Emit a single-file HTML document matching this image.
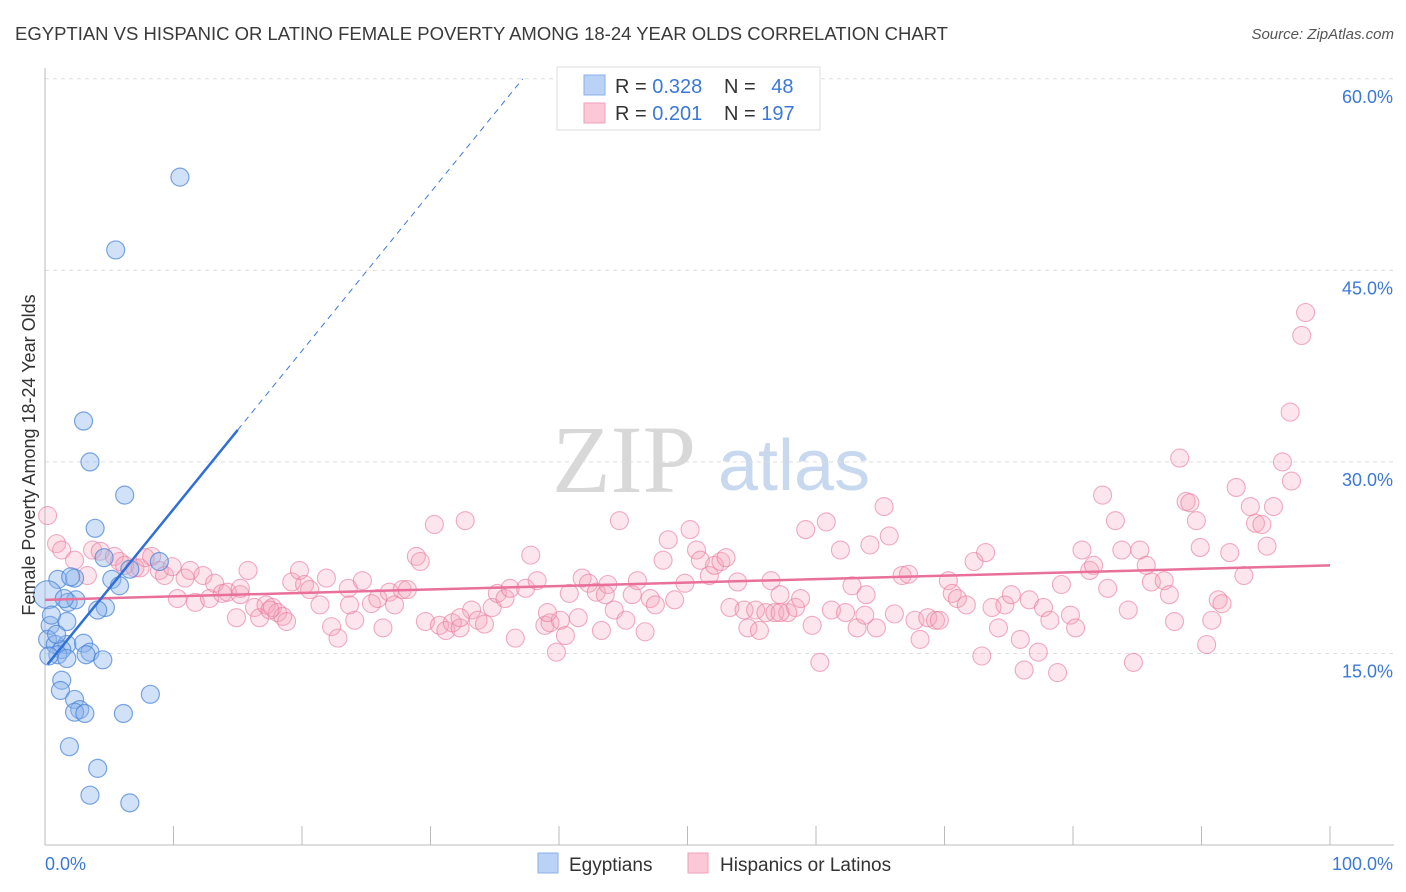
<!DOCTYPE html>
<html><head><meta charset="utf-8"><style>
body{margin:0;background:#fff;font-family:"Liberation Sans",sans-serif;}
svg{display:block}
</style></head><body>
<svg id="chart" width="1406" height="892">
<text x="15" y="40" font-size="18" fill="#3a3a3a" textLength="933" lengthAdjust="spacingAndGlyphs">EGYPTIAN VS HISPANIC OR LATINO FEMALE POVERTY AMONG 18-24 YEAR OLDS CORRELATION CHART</text>
<text x="1394" y="39" font-size="15" fill="#555" font-style="italic" text-anchor="end">Source: ZipAtlas.com</text>
<g>
<text x="552" y="492" font-size="96" fill="#d8d8d8" font-family="Liberation Serif,serif">ZIP</text>
<text x="718" y="490" font-size="72" fill="#c8d8ee">atlas</text>
</g>
<g id="grid"></g>
<g id="axes"></g>
<g id="pts"></g>
<g id="trends"></g>
<text x="35" y="455" font-size="18" fill="#333" text-anchor="middle" transform="rotate(-90 35 455)">Female Poverty Among 18-24 Year Olds</text>
<g>
<rect x="557" y="67" width="263" height="63" fill="#fff" stroke="#ddd"/>
<rect x="584" y="75" width="21" height="20" fill="#b9d2f5" stroke="#8ab0e6"/>
<rect x="584" y="103" width="21" height="20" fill="#fcc8d7" stroke="#f0a0b8"/>
<text x="615" y="93" font-size="20" fill="#333">R = <tspan fill="#3b78d8">0.328</tspan></text>
<text x="724" y="93" font-size="20" fill="#333">N = <tspan fill="#3b78d8" dx="10">48</tspan></text>
<text x="615" y="120" font-size="20" fill="#333">R = <tspan fill="#3b78d8">0.201</tspan></text>
<text x="724" y="120" font-size="20" fill="#333">N = <tspan fill="#3b78d8">197</tspan></text>
</g>
<g>
<rect x="538" y="853" width="20" height="20" fill="#b9d2f5" stroke="#8ab0e6"/>
<text x="569" y="871" font-size="19" fill="#333">Egyptians</text>
<rect x="688" y="853" width="20" height="20" fill="#fcc8d7" stroke="#f0a0b8"/>
<text x="720" y="871" font-size="19" fill="#333">Hispanics or Latinos</text>
</g>
</svg>
<script>
const yTicks=[15,30,45,60];
const yTickLabels=["15.0%","30.0%","45.0%","60.0%"];
const xEndLabels=["0.0%","100.0%"];
const blueX=[10.5,5.5,3.0,3.5,6.2,3.9,8.9,4.6,6.6,5.2,1.0,2.3,0.2,1.8,2.4,4.7,4.1,0.4,1.7,0.2,0.8,1.7,3.0,1.3,3.5,1.0,3.2,4.5,1.7,1.3,1.2,2.3,2.7,2.3,3.1,6.1,8.2,1.9,4.1,3.5,6.6,0.9,0.5,5.8,0.3,2.0,1.5];
const blueY=[52.3,46.6,33.2,30.0,27.4,24.8,22.2,22.5,21.6,20.8,20.8,20.9,19.6,19.0,19.2,18.6,18.4,17.2,17.5,16.1,15.7,15.7,15.8,15.3,15.1,14.9,14.9,14.5,14.6,12.9,12.1,11.4,10.6,10.4,10.3,10.3,11.8,7.7,6.0,3.9,3.3,16.5,18.0,20.3,14.8,21.0,19.3];
const pinkX=[0.2,0.9,1.3,2.3,3.3,3.7,4.3,5.4,5.8,6.2,7.0,7.4,7.8,8.3,8.9,9.3,9.9,10.3,10.9,11.3,11.7,12.3,12.8,13.2,13.8,14.2,14.9,15.2,15.8,16.3,16.7,17.2,17.7,18.1,18.5,18.8,19.2,19.8,20.2,20.6,21.4,21.9,22.3,22.8,23.6,24.1,24.7,25.4,25.9,26.3,26.8,27.2,27.8,28.2,28.9,29.2,29.6,30.3,30.7,31.2,31.7,32.3,32.7,33.2,33.7,34.2,34.8,35.2,35.8,36.2,36.6,37.4,37.8,38.3,38.9,39.3,39.8,40.1,40.5,40.8,41.5,41.8,42.3,42.9,43.3,43.8,44.3,44.7,45.2,45.7,46.1,46.7,47.1,47.5,48.1,48.5,49.0,49.8,50.2,50.7,51.0,51.7,52.1,52.6,53.0,53.3,53.9,54.4,54.7,55.3,55.6,56.1,56.5,56.8,57.2,57.8,58.4,58.8,59.2,59.7,60.3,60.8,61.2,61.9,62.3,62.8,63.2,63.9,64.2,64.7,65.3,65.7,66.1,66.7,67.2,67.7,68.1,68.7,69.3,69.6,70.3,70.6,71.0,71.7,72.3,72.9,73.2,73.7,74.2,74.7,75.2,75.9,76.2,76.6,77.3,77.7,78.2,78.8,79.1,79.8,80.2,80.7,81.3,81.6,82.3,82.7,83.3,83.8,84.3,84.7,85.2,85.7,86.1,87.1,87.5,87.9,88.3,88.8,89.1,89.6,89.9,90.4,90.8,91.3,91.6,92.2,92.7,93.3,93.8,94.2,94.7,95.1,95.6,96.3,97.0,96.9,97.8,98.1,15.2,17.5,23.7,32.3,39.1,43.6,57.2,63.8];
const pinkY=[25.8,23.6,23.1,22.3,21.1,23.1,23.0,22.6,22.2,21.9,21.7,21.7,22.5,22.6,21.5,21.1,21.8,19.3,20.9,21.5,19.0,21.1,19.3,20.5,19.7,19.8,17.8,19.6,21.5,18.6,17.8,18.8,18.6,18.2,17.9,17.5,20.6,21.5,20.4,20.0,18.8,20.9,17.1,16.2,20.1,17.6,20.7,18.9,19.3,17.0,19.8,18.8,20.0,20.0,22.6,22.2,17.5,25.1,17.2,16.8,17.4,17.0,25.4,18.4,17.6,17.3,18.6,19.7,19.3,20.1,16.2,20.1,22.7,20.7,17.2,17.4,15.1,17.6,16.4,19.7,17.8,20.9,20.5,19.8,16.8,20.4,18.4,25.4,17.6,19.6,20.7,16.7,19.3,18.8,22.3,23.9,19.2,20.5,24.7,23.1,22.3,21.1,21.9,22.2,22.5,18.6,20.6,18.4,17.0,18.4,16.8,18.2,20.7,18.2,19.6,18.2,18.6,19.3,24.7,17.2,14.3,25.3,18.4,23.1,18.2,20.3,17.0,19.6,23.5,17.0,26.5,24.2,18.1,21.1,21.2,17.6,16.1,17.8,17.6,17.6,20.7,19.7,19.3,18.8,22.2,14.8,22.9,18.6,17.0,18.8,19.6,16.1,13.7,19.2,15.1,18.6,17.6,13.5,20.4,18.0,17.0,23.1,21.5,21.9,27.4,20.1,25.4,23.1,18.4,14.3,23.1,21.9,20.6,20.7,19.6,17.5,30.3,26.9,26.8,25.4,23.3,15.7,17.6,19.2,18.9,22.9,28.0,21.1,26.5,25.2,25.1,23.4,26.5,30.0,28.5,33.9,39.9,41.7,20.1,18.4,18.8,17.8,18.2,19.6,18.2,18.0];
const blueTrend=[13.9,1.24]; // intercept, slope
const pinkTrend=[19.2,0.027];
const blueSolidEnd=15;

const X0=45,X1=1330,YB=845,YPX=12.77;
const sx=v=>X0+(X1-X0)*v/100;
const sy=v=>YB-v*YPX;
const NS="http://www.w3.org/2000/svg";
function mk(tag,attrs,parent){const e=document.createElementNS(NS,tag);for(const k in attrs)e.setAttribute(k,attrs[k]);parent.appendChild(e);return e;}
const grid=document.getElementById('grid'),axes=document.getElementById('axes'),pts=document.getElementById('pts'),tr=document.getElementById('trends');
yTicks.forEach((t,i)=>{
  const l=mk('line',{x1:X0,x2:1394,y1:sy(t),y2:sy(t),stroke:'#ddd','stroke-dasharray':'4,4'},grid);
  
  
  const tx=mk('text',{x:1393,y:sy(t)+24,'font-size':18,fill:'#3b78d8','text-anchor':'end'},axes);
  tx.textContent=yTickLabels[i];
  
  
});
let ax=mk('line',{x1:X0,x2:X0,y1:68,y2:YB,stroke:'#bbb'},axes);


ax=mk('line',{x1:X0,x2:1394,y1:YB,y2:YB,stroke:'#bbb'},axes);


for(let i=0;i<=10;i++){
  const t=mk('line',{x1:sx(i*10),x2:sx(i*10),y1:YB,y2:YB-19,stroke:'#bbb'},axes);
  
  
}
let xl=mk('text',{x:X0,y:870,'font-size':18,fill:'#3b78d8'},axes);xl.textContent=xEndLabels[0];


xl=mk('text',{x:1393,y:870,'font-size':18,fill:'#3b78d8','text-anchor':'end'},axes);xl.textContent=xEndLabels[1];


pinkX.forEach((x,i)=>{
  const c=mk('circle',{cx:sx(x),cy:sy(pinkY[i]),r:9,fill:'rgba(246,160,188,0.28)',stroke:'rgba(232,120,155,0.6)','stroke-width':1.1},pts);
  
  
});
blueX.forEach((x,i)=>{
  const c=mk('circle',{cx:sx(x),cy:sy(blueY[i]),r:i==12?14:9,fill:'rgba(140,180,235,0.4)',stroke:'rgba(70,130,215,0.7)','stroke-width':1.2},pts);
  
  
});
let ln=mk('line',{x1:sx(0),y1:sy(pinkTrend[0]),x2:sx(100),y2:sy(pinkTrend[0]+pinkTrend[1]*100),stroke:'#e8709a','stroke-width':2.5},tr);


const bEnd=(60-blueTrend[0])/blueTrend[1];
ln=mk('line',{x1:sx(blueSolidEnd),y1:sy(blueTrend[0]+blueTrend[1]*blueSolidEnd),x2:sx(bEnd),y2:sy(60),stroke:'#3b78d8','stroke-width':1,'stroke-dasharray':'6,5'},tr);


ln=mk('line',{x1:sx(0.2),y1:sy(blueTrend[0]+blueTrend[1]*0.2),x2:sx(blueSolidEnd),y2:sy(blueTrend[0]+blueTrend[1]*blueSolidEnd),stroke:'#2f6fd6','stroke-width':2.5},tr);


</script>
</body></html>
